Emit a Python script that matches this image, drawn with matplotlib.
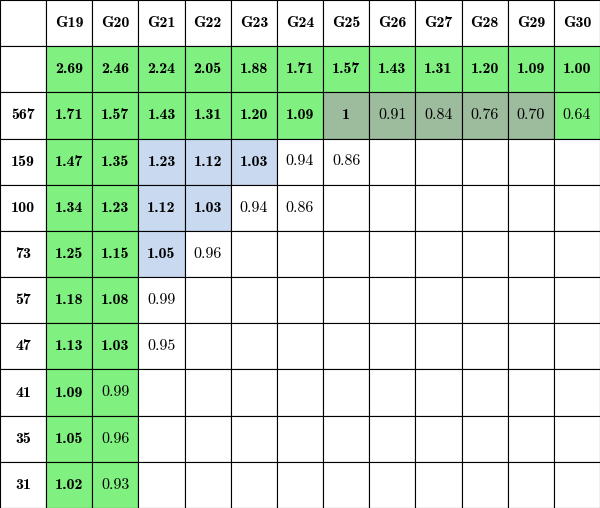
import matplotlib
matplotlib.use("Agg")
import matplotlib.pyplot as plt
from matplotlib.patches import Rectangle

cols = ["G19", "G20", "G21", "G22", "G23", "G24", "G25", "G26", "G27", "G28", "G29", "G30"]
rows = ["", "567", "159", "100", "73", "57", "47", "41", "35", "31"]
values = [
    ["2.69", "2.46", "2.24", "2.05", "1.88", "1.71", "1.57", "1.43", "1.31", "1.20", "1.09", "1.00"],
    ["1.71", "1.57", "1.43", "1.31", "1.20", "1.09", "1", "0.91", "0.84", "0.76", "0.70", "0.64"],
    ["1.47", "1.35", "1.23", "1.12", "1.03", "0.94", "0.86"],
    ["1.34", "1.23", "1.12", "1.03", "0.94", "0.86"],
    ["1.25", "1.15", "1.05", "0.96"],
    ["1.18", "1.08", "0.99"],
    ["1.13", "1.03", "0.95"],
    ["1.09", "0.99"],
    ["1.05", "0.96"],
    ["1.02", "0.93"],
]
# g = green, d = dark grey-green, b = blue, w = white
shades = [
    "gggggggggggg",
    "ggggggdddddg",
    "ggbbbww",
    "ggbbww",
    "ggbw",
    "ggw",
    "ggw",
    "gg",
    "gg",
    "gg",
]
palette = {"g": "#80f080", "d": "#9dbb9d", "b": "#c9d9ef", "w": "white"}

fig = plt.figure(figsize=(6, 5.08), dpi=100)
ax = fig.add_axes([0, 0, 1, 1])
ncol, nrow = len(cols) + 1, len(rows) + 1
ax.set_xlim(0, ncol)
ax.set_ylim(nrow, 0)
ax.axis("off")

def cell(c, r, text, color="white", bold=True):
    ax.add_patch(Rectangle((c, r), 1, 1, facecolor=color, edgecolor="black", lw=0.8))
    if text:
        ax.text(c + 0.5, r + 0.5, text, ha="center", va="center", fontsize=11.5,
                family=["cmb10" if bold else "cmr10", "DejaVu Serif"])

cell(0, 0, "")
for j, name in enumerate(cols):
    cell(j + 1, 0, name)
for i, name in enumerate(rows):
    r = i + 1
    cell(0, r, name)
    for j in range(len(cols)):
        if j < len(values[i]):
            v = values[i][j]
            cell(j + 1, r, v, palette[shades[i][j]], bold=float(v) >= 1)
        else:
            cell(j + 1, r, "")

fig.savefig("out.png", dpi=100)
